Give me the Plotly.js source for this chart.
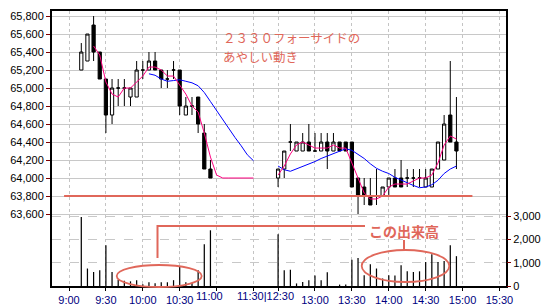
<!DOCTYPE html>
<html><head><meta charset="utf-8">
<script src="https://cdn.plot.ly/plotly-3.0.1.min.js"></script>
<style>html,body{margin:0;padding:0;background:#fff}#chart{width:550px;height:305px}</style>
</head><body><div id="chart"></div>
<script>
// ---- data (5-minute bars, 2330 Forside) ----
const times = ["9:10","9:15","9:20","9:25","9:30","9:35","9:40","9:45","9:50","9:55","10:00","10:05","10:10","10:15","10:20","10:25","10:30","10:35","10:40","10:45","10:50","10:55",
  "12:30","12:35","12:40","12:45","12:50","12:55","13:00","13:05","13:10","13:15","13:20","13:25","13:30","13:35","13:40","13:45","13:50","13:55","14:00","14:05","14:10","14:15","14:20","14:25","14:30","14:35","14:40","14:45","14:50","14:55"];
const open  = [65200,65300,65700,65400,65100,64700,65000,65000,64900,64900,65200,65200,65300,65200,65100,65200,65200,64700,64800,64900,64500,64100,
  64000,64100,64400,64300,64300,64400,64300,64300,64400,64300,64400,64400,64400,64000,63900,63800,63800,63800,63900,64000,64000,64000,64000,64000,63900,63900,64100,64200,64700,64400];
const high  = [65500,65600,65800,65400,65100,65100,65100,65100,65000,65300,65300,65400,65400,65200,65200,65300,65200,64900,64900,64900,64600,64200,
  64100,64300,64600,64400,64500,64600,64500,64500,64500,64500,64400,64400,64400,64000,64000,64000,64100,63900,64000,64100,64200,64100,64100,64100,64100,64100,64400,64700,65300,64900];
const low   = [65200,65300,65300,65100,64500,64600,64800,64800,64800,64900,65100,65200,65200,65000,65000,65100,64700,64700,64700,64500,64100,64000,
  63900,64000,64300,64300,64300,64300,64300,64300,64100,64300,64300,64300,63900,63600,63700,63700,63700,63800,63800,63900,63900,63900,63900,63900,63900,63900,64100,64200,64400,64100];
const close = [65400,65600,65400,65100,64700,65000,65000,65000,65000,65200,65200,65300,65200,65100,65100,65200,64800,64800,64800,64600,64100,64000,
  64100,64300,64400,64400,64400,64300,64300,64400,64300,64400,64300,64300,63900,63800,63800,63700,63800,63900,64000,63900,63900,64000,64000,64000,64000,64100,64400,64600,64400,64300];
const volume = [2960,750,600,680,1750,600,270,220,200,250,70,160,120,160,160,250,820,160,130,680,1790,2390,
  2220,680,700,110,170,250,450,250,590,0,60,60,1130,1200,460,930,750,320,460,450,890,630,600,630,1030,1360,1030,1070,1750,1280];

// moving averages as drawn (pink = short, blue = long)
const maTimesAM = ["9:20","9:25","9:30","9:35","9:40","9:45","9:50","9:55","10:00","10:05","10:10","10:15","10:20","10:25","10:30","10:35","10:40","10:45","10:50","10:55","11:00","11:05","11:10","11:15","11:20","11:25","11:30"];
const maShortAM = [65467,65367,65067,64933,64900,65000,65000,65067,65133,65233,65233,65200,65133,65133,65033,64933,64800,64733,64500,64233,64033,64000,64000,64000,64000,64000,64000];
const maLongAM  = [null,null,null,null,null,null,null,null,null,65158,65142,65100,65075,65083,65092,65075,65058,65025,64950,64850,64750,64642,64542,64450,64358,64258,64192];
const maTimesPM = ["12:30","12:35","12:40","12:45","12:50","12:55","13:00","13:05","13:10","13:15","13:20","13:25","13:30","13:35","13:40","13:45","13:50","13:55","14:00","14:05","14:10","14:15","14:20","14:25","14:30","14:35","14:40","14:45","14:50","14:55"];
const maShortPM = [64033,64133,64267,64367,64400,64367,64333,64333,64333,64367,64333,64333,64167,64000,63833,63767,63767,63800,63900,63933,63933,63933,63967,64000,64000,64033,64167,64367,64467,64433];
const maLongPM  = [64133,64092,64075,64100,64133,64158,64183,64217,64242,64275,64300,64325,64308,64267,64217,64158,64108,64075,64050,64008,63975,63942,63917,63892,63900,63925,63975,64050,64100,64133];

const supportLevel = 63800;
const gridTimes = ["9:00","9:30","10:00","10:30","11:00","11:30","12:30","13:00","13:30","14:00","14:30","15:00","15:30"];
const gridLabels = ["9:00","9:30","10:00","10:30","","","","13:00","13:30","14:00","14:30","15:00","15:30"];
const priceTicks = [63600,63800,64000,64200,64400,64600,64800,65000,65200,65400,65600,65800];
const volTicks = [0,1000,2000,3000];

// time -> slot on a session axis (lunch compressed)
function slot(t){const p=t.split(':').map(Number);const m=p[0]*60+p[1];return m<=690?(m-540)/5:34+(m-750)/5;}
const x = times.map(slot);

const RED = '#e0675a';
const NAVY = '#000080';
const px = v => (v-52)/454, py = v => (286-v)/275;

const traces = [
  {type:'bar', x:x, y:volume, yaxis:'y2', width:0.2, marker:{color:'#000', line:{width:0}}, hoverinfo:'skip'},
  {type:'candlestick', x:x, open:open, high:high, low:low, close:close, whiskerwidth:0,
   increasing:{line:{color:'#000',width:1}, fillcolor:'#fff'},
   decreasing:{line:{color:'#000',width:1}, fillcolor:'#000'}},
  {type:'scatter', mode:'lines', x:maTimesAM.map(slot).concat([null]).concat(maTimesPM.map(slot)),
   y:maLongAM.concat([null]).concat(maLongPM), line:{color:'#0000ff', width:1}, connectgaps:false},
  {type:'scatter', mode:'lines', x:maTimesAM.map(slot).concat([null]).concat(maTimesPM.map(slot)),
   y:maShortAM.concat([null]).concat(maShortPM), line:{color:'#ff0080', width:1}, connectgaps:false}
];

const layout = {
  width:550, height:305, margin:{l:52,r:44,t:11,b:19,pad:0},
  paper_bgcolor:'#fff', plot_bgcolor:'#fff', showlegend:false,
  font:{family:'Liberation Sans, Arial, sans-serif', size:11, color:'#000'},
  boxgap:0.25,
  xaxis:{range:[-2.764,71.06], tickmode:'array', tickvals:gridTimes.map(slot), ticktext:gridLabels, tickangle:0,
    tickfont:{color:NAVY, size:11}, ticks:'outside', ticklen:3, tickcolor:'#000',
    showgrid:true, griddash:'dot', gridcolor:'#c4c4c4', gridwidth:1,
    showline:true, linecolor:'#000', linewidth:2, mirror:true, zeroline:false,
    rangeslider:{visible:false}, fixedrange:true},
  yaxis:{range:[62800,65856], tickmode:'array', tickvals:priceTicks, tickformat:',d', ticks:'outside', ticklen:4, tickcolor:'#800000',
    showgrid:true, gridcolor:'#c8c8c8', gridwidth:1, showline:true, linecolor:'#000', linewidth:2, mirror:true, zeroline:false, fixedrange:true},
  yaxis2:{overlaying:'y', side:'right', range:[0,11800], tickmode:'array', tickvals:volTicks, tickformat:',d', ticks:'outside', ticklen:4, tickcolor:'#800000',
    showgrid:true, gridcolor:'#c8c8c8', griddash:'dash', gridwidth:1, zeroline:false, showline:false, fixedrange:true},
  shapes:[
    {type:'line', xref:'x', yref:'y', x0:-0.8, x1:65.6, y0:supportLevel, y1:supportLevel, line:{color:RED, width:2}, layer:'above'},
    {type:'circle', xref:'paper', yref:'paper', x0:px(116.7), x1:px(201.7), y0:py(287), y1:py(265), line:{color:RED, width:1.8}, layer:'above'},
    {type:'circle', xref:'paper', yref:'paper', x0:px(361.7), x1:px(449.3), y0:py(282), y1:py(250), line:{color:RED, width:1.8}, layer:'above'},
    {type:'path', xref:'paper', yref:'paper', path:`M ${px(157.5)} ${py(258)} L ${px(157.5)} ${py(226)} L ${px(365)} ${py(226)}`, line:{color:RED, width:2}, layer:'above'},
    {type:'line', xref:'paper', yref:'paper', x0:px(404), x1:px(404), y0:py(240), y1:py(250), line:{color:RED, width:2}, layer:'above'}
  ],
  annotations:[
    {text:'２３３０フォーサイドの', xref:'paper', yref:'paper', x:px(222), y:py(37.5), xanchor:'left', yanchor:'middle', showarrow:false, borderpad:0,
     font:{family:'Noto Sans CJK JP, sans-serif', size:12.5, color:RED}},
    {text:'あやしい動き', xref:'paper', yref:'paper', x:px(222), y:py(56), xanchor:'left', yanchor:'middle', showarrow:false, borderpad:0,
     font:{family:'Noto Sans CJK JP, sans-serif', size:12.5, color:RED}},
    {text:'<b>この出来高</b>', xref:'paper', yref:'paper', x:px(367), y:py(231), xanchor:'left', yanchor:'middle', showarrow:false,
     font:{family:'Noto Sans CJK JP, sans-serif', size:14, color:RED}},
    {text:'11:00', xref:'x', yref:'paper', x:22.9, y:py(296), xanchor:'center', yanchor:'middle', showarrow:false,
     font:{size:11, color:NAVY}},
    {text:'11:30|12:30', xref:'paper', yref:'paper', x:px(265), y:py(296), xanchor:'center', yanchor:'middle', showarrow:false,
     font:{size:11, color:NAVY}}
  ]
};

Plotly.newPlot('chart', traces, layout, {displayModeBar:false, staticPlot:true});
</script></body></html>
